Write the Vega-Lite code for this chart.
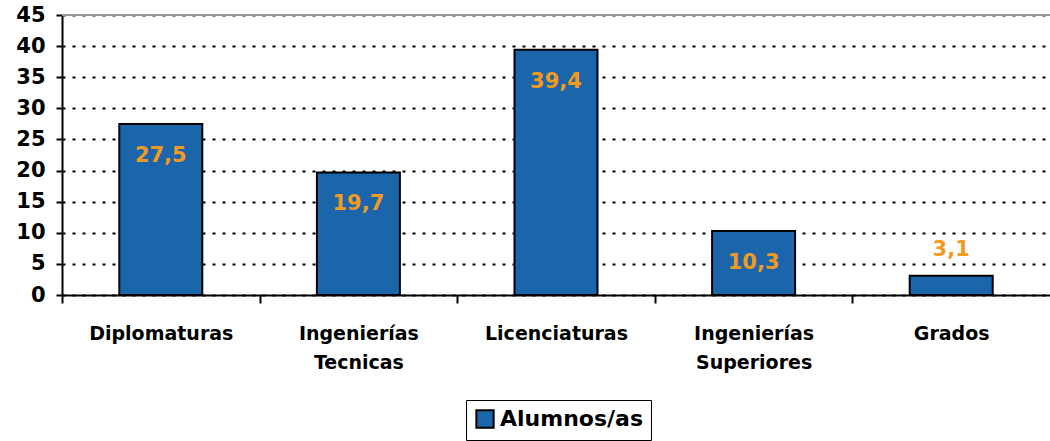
{
  "$schema": "https://vega.github.io/schema/vega-lite/v6.json",
  "width": 988,
  "height": 280,
  "autosize": "none",
  "padding": {"left": 62, "top": 15, "right": 0, "bottom": 146},
  "config": {"view": {"stroke": null}, "font": "DejaVu Sans",
    "locale": {"number": {"decimal": ",", "thousands": ".", "grouping": [3], "currency": ["", " €"]}}},
  "data": {"values": [
    {"tipo": "Diplomaturas", "valor": 27.5, "serie": "Alumnos/as"},
    {"tipo": "Ingenierías Tecnicas", "valor": 19.7, "serie": "Alumnos/as"},
    {"tipo": "Licenciaturas", "valor": 39.4, "serie": "Alumnos/as"},
    {"tipo": "Ingenierías Superiores", "valor": 10.3, "serie": "Alumnos/as"},
    {"tipo": "Grados", "valor": 3.1, "serie": "Alumnos/as"}
  ]},
  "encoding": {
    "x": {"field": "tipo", "type": "nominal", "sort": null,
      "scale": {"paddingInner": 0.58, "paddingOuter": 0.29},
      "axis": {"title": null, "labelAngle": 0, "domainColor": "black", "domainWidth": 2,
        "ticks": true, "tickColor": "black", "tickWidth": 2, "tickSize": 8, "tickOffset": -98.8,
        "labelFont": "DejaVu Sans", "labelFontWeight": "bold", "labelFontSize": 19, "labelColor": "black",
        "labelOffset": 98.8,
        "labelPadding": 21, "labelLineHeight": 29, "labelBound": false, "labelOverlap": false,
        "labelExpr": "datum.value ? split(datum.value, ' ') : ''"}},
    "y": {"field": "valor", "type": "quantitative",
      "scale": {"domain": [0, 45], "nice": false},
      "axis": {"title": null, "values": [0,5,10,15,20,25,30,35,40,45], "domainColor": "black", "domainWidth": 2,
        "tickColor": "black", "tickWidth": 2, "tickSize": 6,
        "labelFont": "DejaVu Sans", "labelFontWeight": "bold", "labelFontSize": 21, "labelColor": "black",
        "labelPadding": 11,
        "grid": true, "gridColor": "black", "gridWidth": 2, "gridDash": [3, 7]}}
  },
  "layer": [
    {"mark": {"type": "rule", "color": "#999999", "strokeWidth": 2},
     "encoding": {"y": {"datum": 45}, "x": null}},
    {"mark": {"type": "bar", "stroke": "black", "strokeWidth": 2},
     "encoding": {"color": {"field": "serie", "type": "nominal",
        "scale": {"range": ["#1B65AB"]},
        "legend": {"title": null, "orient": "none", "legendX": 404, "legendY": 385,
          "strokeColor": "black", "padding": 8, "symbolType": "square", "symbolSize": 300,
          "symbolStrokeColor": "black", "symbolStrokeWidth": 2,
          "labelFont": "DejaVu Sans", "labelFontSize": 22, "labelFontWeight": "bold", "labelColor": "black",
          "labelOffset": 4}}}},
    {"transform": [{"filter": "datum.valor > 5"}],
     "mark": {"type": "text", "baseline": "middle", "dy": 32, "font": "DejaVu Sans", "fontWeight": "bold", "fontSize": 21, "color": "#F39A1E"},
     "encoding": {"text": {"field": "valor", "type": "quantitative", "format": ".1f"}}},
    {"transform": [{"filter": "datum.valor <= 5"}],
     "mark": {"type": "text", "baseline": "middle", "dy": -26, "font": "DejaVu Sans", "fontWeight": "bold", "fontSize": 21, "color": "#F39A1E"},
     "encoding": {"text": {"field": "valor", "type": "quantitative", "format": ".1f"}}}
  ]
}
